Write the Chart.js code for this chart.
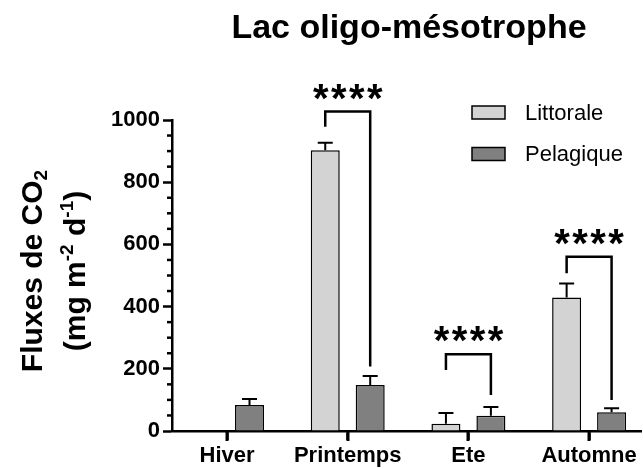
<!DOCTYPE html>
<html>
<head>
<meta charset="utf-8">
<script src="https://cdn.jsdelivr.net/npm/chart.js@4.4.0/dist/chart.umd.min.js"></script>
<style>
  html, body { margin: 0; padding: 0; background: #fff; }
</style>
</head>
<body>
<canvas id="myChart" width="643" height="469"></canvas>
<script>
  // seasons on the x axis
  const seasons = ['Hiver', 'Printemps', 'Ete', 'Automne'];
  // CO2 fluxes (mg m-2 d-1), mean and upper error
  const littorale = [null, 903, 23, 429];
  const littoraleErr = [null, 24, 35, 45];
  const pelagique = [84, 148, 49, 60];
  const pelagiqueErr = [19, 29, 28, 13];
  const yTicks = [0, 200, 400, 600, 800, 1000];
  // significance brackets: season, bracket top, left leg end, right leg end
  const sigSeason = [1, 2, 3];
  const sigTop = [1027, 247, 560];
  const sigLeft = [978, 196, 507];
  const sigRight = [207, 116, 100];
  const sigLabel = ['****', '****', '****'];

  const FONT = '"Liberation Sans", Arial, Helvetica, sans-serif';
  const errs = [littoraleErr, pelagiqueErr];

  const toPoints = (vals) => seasons.map((s, i) => ({ x: i, y: vals[i] })).filter(p => p.y !== null);

  const barFor = (chart, ds, season) => {
    const j = chart.data.datasets[ds].data.findIndex(p => p.x === season);
    return chart.getDatasetMeta(ds).data[j];
  };

  // text with sub/superscript pieces, centred on x = 0
  function drawRich(ctx, parts, baseY) {
    let total = 0;
    parts.forEach(p => {
      ctx.font = 'bold ' + p.size + 'px ' + FONT;
      p.w = ctx.measureText(p.t).width;
      total += p.w;
    });
    let x = -total / 2;
    parts.forEach(p => {
      ctx.font = 'bold ' + p.size + 'px ' + FONT;
      ctx.fillText(p.t, x, baseY + p.dy);
      x += p.w;
    });
  }

  const decor = {
    id: 'decor',
    afterDatasetsDraw(chart) {
      const ctx = chart.ctx;
      const y = chart.scales.y;
      ctx.save();
      ctx.strokeStyle = '#000';
      ctx.lineWidth = 2;
      // upper error bars
      chart.data.datasets.forEach((ds, i) => {
        const meta = chart.getDatasetMeta(i);
        ds.data.forEach((p, j) => {
          const el = meta.data[j];
          const top = y.getPixelForValue(p.y + errs[i][p.x]);
          ctx.beginPath();
          ctx.moveTo(el.x, el.y);
          ctx.lineTo(el.x, top);
          ctx.moveTo(el.x - 7.5, top);
          ctx.lineTo(el.x + 7.5, top);
          ctx.stroke();
        });
      });
      ctx.restore();
    },
    afterDraw(chart) {
      const ctx = chart.ctx;
      const x = chart.scales.x;
      const y = chart.scales.y;
      const area = chart.chartArea;
      ctx.save();
      ctx.strokeStyle = '#000';
      ctx.fillStyle = '#000';

      // minor ticks on the y axis
      ctx.lineWidth = 2.5;
      for (let v = 50; v < 1000; v += 50) {
        if (v % 200 === 0) continue;
        const py = y.getPixelForValue(v);
        ctx.beginPath();
        ctx.moveTo(area.left - 5, py);
        ctx.lineTo(area.left, py);
        ctx.stroke();
      }

      // season tick marks below the x axis
      ctx.lineWidth = 3;
      seasons.forEach((s, i) => {
        const px = Math.round(x.getPixelForValue(i));
        ctx.beginPath();
        ctx.moveTo(px, area.bottom);
        ctx.lineTo(px, area.bottom + 10);
        ctx.stroke();
      });

      // significance brackets
      ctx.lineWidth = 2.5;
      sigSeason.forEach((s, k) => {
        const xl = barFor(chart, 0, s).x;
        const xr = barFor(chart, 1, s).x;
        const yt = y.getPixelForValue(sigTop[k]);
        ctx.beginPath();
        ctx.moveTo(xl, y.getPixelForValue(sigLeft[k]));
        ctx.lineTo(xl, yt);
        ctx.lineTo(xr, yt);
        ctx.lineTo(xr, y.getPixelForValue(sigRight[k]));
        ctx.stroke();

        ctx.font = 'bold 40px ' + FONT;
        ctx.textAlign = 'center';
        ctx.textBaseline = 'alphabetic';
        const m = ctx.measureText('*');
        const cy = yt - 20;
        const base = cy + (m.actualBoundingBoxAscent - m.actualBoundingBoxDescent) / 2;
        const stars = sigLabel[k];
        const pitch = 18;
        const x0 = (xl + xr) / 2 - pitch * (stars.length - 1) / 2;
        for (let c = 0; c < stars.length; c++) {
          ctx.fillText(stars[c], x0 + c * pitch, base);
        }
      });

      // legend
      const names = chart.data.datasets.map(d => d.label);
      ctx.font = '22px ' + FONT;
      ctx.textAlign = 'left';
      ctx.textBaseline = 'middle';
      names.forEach((n, i) => {
        const cy = 112.5 + i * 41.5;
        ctx.fillStyle = chart.data.datasets[i].backgroundColor;
        ctx.fillRect(472, cy - 6.5, 33, 13);
        ctx.lineWidth = 1.5;
        ctx.strokeRect(472, cy - 6.5, 33, 13);
        ctx.fillStyle = '#000';
        ctx.fillText(n, 525, cy + 1);
      });

      // chart title
      ctx.font = 'bold 34px ' + FONT;
      ctx.textAlign = 'center';
      ctx.textBaseline = 'alphabetic';
      ctx.fillText('Lac oligo-mésotrophe', 409, 38);

      // y axis title, two rotated lines
      ctx.textAlign = 'left';
      ctx.translate(0, 271);
      ctx.rotate(-Math.PI / 2);
      drawRich(ctx, [
        { t: 'Fluxes de CO', size: 30, dy: 0 },
        { t: '2', size: 19, dy: 5 }
      ], 42);
      drawRich(ctx, [
        { t: '(mg m', size: 30, dy: 0 },
        { t: '-2', size: 19, dy: -12 },
        { t: ' d', size: 30, dy: 0 },
        { t: '-1', size: 19, dy: -12 },
        { t: ')', size: 30, dy: 0 }
      ], 85);
      ctx.restore();
    }
  };

  const tickFont = { family: FONT, size: 22, weight: 'bold' };

  const ctx = document.getElementById('myChart').getContext('2d');
  const myChart = new Chart(ctx, {
    type: 'bar',
    data: {
      datasets: [{
        label: 'Littorale',
        data: toPoints(littorale),
        backgroundColor: '#d3d3d3',
        borderColor: '#000',
        borderWidth: 1.5
      }, {
        label: 'Pelagique',
        data: toPoints(pelagique),
        backgroundColor: '#808080',
        borderColor: '#000',
        borderWidth: 1.5
      }]
    },
    options: {
      responsive: false,
      animation: false,
      categoryPercentage: 0.745,
      barPercentage: 0.645,
      layout: { padding: { left: 0, top: 120, right: 2, bottom: 0 } },
      plugins: {
        legend: { display: false },
        title: { display: false },
        tooltip: { enabled: false }
      },
      scales: {
        x: {
          type: 'linear',
          offset: false,
          min: -0.456,
          max: 3.43,
          afterBuildTicks: (axis) => { axis.ticks = seasons.map((s, i) => ({ value: i })); },
          afterFit: (axis) => { axis.height = 38; },
          ticks: {
            callback: (v) => seasons[v],
            font: tickFont,
            color: '#000',
            padding: 3,
            autoSkip: false,
            maxRotation: 0
          },
          grid: { offset: false, drawOnChartArea: false, tickLength: 9, tickWidth: 2.5, tickColor: '#000' },
          border: { color: '#000', width: 2.5 }
        },
        y: {
          min: 0,
          max: 1000,
          afterBuildTicks: (axis) => { axis.ticks = yTicks.map(v => ({ value: v })); },
          afterFit: (axis) => { axis.width = 172; },
          ticks: { callback: (v) => String(v), font: tickFont, color: '#000', padding: 3 },
          grid: { drawOnChartArea: false, tickLength: 9, tickWidth: 2.5, tickColor: '#000' },
          border: { color: '#000', width: 2.5 }
        }
      }
    },
    plugins: [decor]
  });
</script>
</body>
</html>
